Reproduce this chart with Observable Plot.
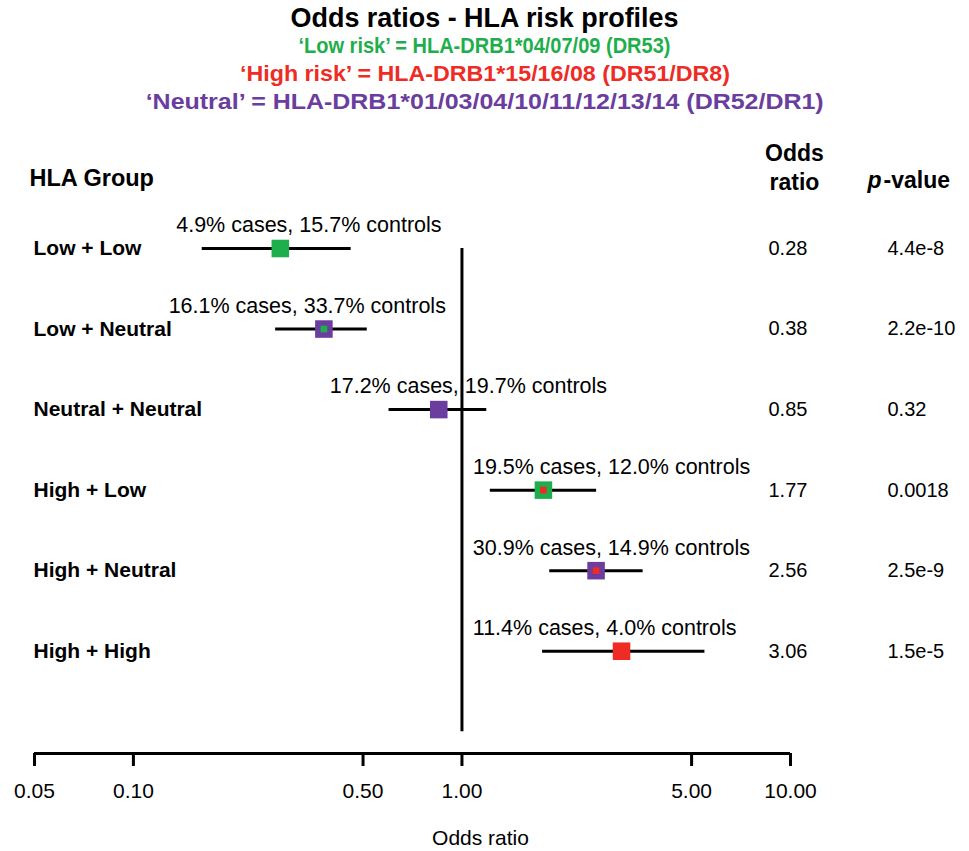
<!DOCTYPE html>
<html><head><meta charset="utf-8">
<script src="https://cdn.jsdelivr.net/npm/d3@7"></script>
<script src="https://cdn.jsdelivr.net/npm/@observablehq/plot@0.6"></script>
<style>
body{margin:0;background:#fff;font-family:"Liberation Sans",Arial,sans-serif;}
#title{height:112px;padding-top:4px;text-align:center;font-weight:bold;padding-left:0px;}
#title div{height:28px;line-height:28px;white-space:nowrap;}
#title span{display:inline-block;transform-origin:50% 50%;}
</style></head><body>
<div id="title">
  <div style="font-size:27px;color:#000"><span data-w="388">Odds ratios - HLA risk profiles</span></div>
  <div style="font-size:22px;color:#1fae4c"><span data-w="372">‘Low risk’ = HLA-DRB1*04/07/09 (DR53)</span></div>
  <div style="font-size:22px;color:#ee2b25"><span data-w="490">‘High risk’ = HLA-DRB1*15/16/08 (DR51/DR8)</span></div>
  <div style="font-size:22px;color:#6a3d9e"><span data-w="678">‘Neutral’ = HLA-DRB1*01/03/04/10/11/12/13/14 (DR52/DR1)</span></div>
</div>
<div id="chart"></div>
<script>
const groups = ["Low + Low", "Low + Neutral", "Neutral + Neutral", "High + Low", "High + Neutral", "High + High"];
const oddsRatio = [0.28, 0.38, 0.85, 1.77, 2.56, 3.06];
const ciLow = [0.162, 0.271, 0.60, 1.22, 1.85, 1.76];
const ciHigh = [0.46, 0.515, 1.19, 2.57, 3.56, 5.49];
const pValues = ["4.4e-8", "2.2e-10", "0.32", "0.0018", "2.5e-9", "1.5e-5"];
const casesPct = ["4.9", "16.1", "17.2", "19.5", "30.9", "11.4"];
const controlsPct = ["15.7", "33.7", "19.7", "12.0", "14.9", "4.0"];
const outerRisk = ["Low", "Neutral", "Neutral", "Low", "Neutral", "High"];
const innerRisk = ["Low", "Low", "Neutral", "High", "High", "High"];
const noteStartOR = [0.135, 0.128, 0.396, 1.08, 1.079, 1.079];
const xTicks = [0.05, 0.1, 0.5, 1, 5, 10];
const riskLevels = ["Low", "Neutral", "High"];
const riskColors = ["#1fae4c", "#6a3d9e", "#ee2b25"];

document.querySelectorAll("#title span[data-w]").forEach(s => {
  const w = s.getBoundingClientRect().width;
  s.style.transform = `scaleX(${(+s.dataset.w / w).toFixed(4)})`;
});

const rows = groups.map((g, i) => ({
  i, group: g, or: oddsRatio[i], lo: ciLow[i], hi: ciHigh[i], p: pValues[i],
  outer: outerRisk[i], inner: innerRisk[i], at: noteStartOR[i],
  note: `${casesPct[i]}% cases, ${controlsPct[i]}% controls`
}));

const font = "Liberation Sans, Arial, sans-serif";
const narrow = "Liberation Sans Narrow, Arial Narrow, Liberation Sans, sans-serif";
const yAxisEnd = 6.27;
const chart = Plot.plot({
  width: 969, height: 735,
  marginLeft: 34, marginRight: 179, marginTop: 132, marginBottom: 98,
  x: {type: "log", domain: [0.05, 10], axis: null},
  y: {domain: [0, yAxisEnd], reverse: true, axis: null},
  color: {domain: riskLevels, range: riskColors},
  style: {fontFamily: font, fontSize: "20px", color: "#000", background: "#fff"},
  marks: [
    Plot.ruleX([1], {y1: 0, y2: 6, strokeWidth: 3, stroke: "#000"}),
    Plot.ruleY(rows, {y: "i", x1: "lo", x2: "hi", strokeWidth: 3, stroke: "#000"}),
    Plot.dot(rows, {x: "or", y: "i", symbol: "square", r: 9.9, fill: "outer"}),
    Plot.dot(rows, {x: "or", y: "i", symbol: "square", r: 3.8, fill: "inner"}),
    Plot.text(rows, {x: "at", y: "i", text: "note", textAnchor: "start", dy: -23, fontSize: 21.5}),
    Plot.text(rows, {y: "i", text: "group", frameAnchor: "left", textAnchor: "start", dx: -1, fontWeight: "bold", fontSize: 21}),
    Plot.text(rows, {y: "i", text: d => d.or.toFixed(2), frameAnchor: "left", textAnchor: "start", dx: 734, fontSize: 20}),
    Plot.text(rows, {y: "i", text: "p", frameAnchor: "left", textAnchor: "start", dx: 853, fontSize: 20}),
    Plot.text(["HLA Group"], {frameAnchor: "top-left", lineAnchor: "middle", textAnchor: "start", dx: -5, dy: -70, fontWeight: "bold", fontSize: 23.5}),
    Plot.text(["Odds\nratio"], {frameAnchor: "top-left", lineAnchor: "middle", textAnchor: "middle", dx: 760, dy: -82, lineHeight: 1.22, fontWeight: "bold", fontSize: 23}),
    Plot.text(["p"], {frameAnchor: "top-left", lineAnchor: "middle", textAnchor: "start", dx: 833, dy: -68, fontWeight: "bold", fontStyle: "italic", fontSize: 23}),
    Plot.text(["-value"], {frameAnchor: "top-left", lineAnchor: "middle", textAnchor: "start", dx: 849, dy: -68, fontWeight: "bold", fontSize: 23}),
    Plot.ruleY([yAxisEnd], {x1: 0.05, x2: 10, strokeWidth: 3, stroke: "#000"}),
    Plot.ruleX(xTicks, {x: d => d, y1: yAxisEnd, y2: yAxisEnd, insetBottom: -13, strokeWidth: 3, stroke: "#000"}),
    Plot.text(xTicks, {x: d => d, text: d => d3.format(".2f")(d), frameAnchor: "bottom", lineAnchor: "middle", dy: 38, fontSize: 21, fontFamily: narrow}),
    Plot.text(["Odds ratio"], {frameAnchor: "bottom", lineAnchor: "middle", dx: 68, dy: 85, fontSize: 21, fontFamily: narrow})
  ]
});
document.getElementById("chart").appendChild(chart);
</script>
</body></html>
